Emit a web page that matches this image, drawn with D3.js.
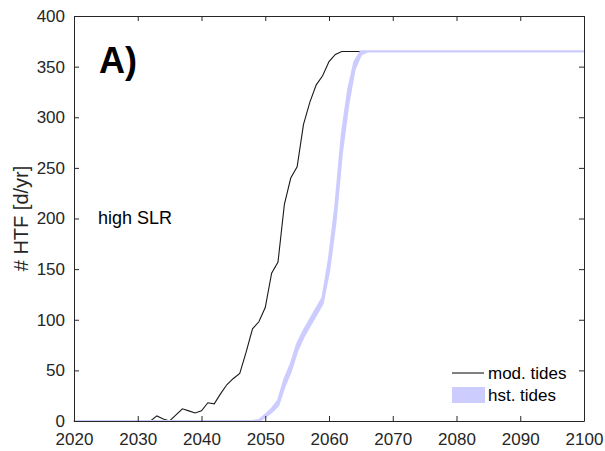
<!DOCTYPE html>
<html>
<head>
<meta charset="utf-8">
<script src="https://cdn.jsdelivr.net/npm/d3@7"></script>
<style>
  body { margin: 0; background: #fff; }
  svg text { font-family: "Liberation Sans", Arial, sans-serif; fill: #262626; }
</style>
</head>
<body>
<div id="container"></div>
<script>
/* DATA */
const years = d3.range(2020, 2101);

// mod. tides (black line), yearly values, 2020 onwards until it reaches 365
const modValues = [
  0, 0, 0, 0, 0, 0, 0, 0, 0, 0,      // 2020-2029
  0, 0, 0, 5, 2, 0, 6, 12, 10, 8,    // 2030-2039
  10, 18, 17, 27, 36, 42, 47, 68, 91, 98,   // 2040-2049
  112, 146, 157, 214, 240, 251, 293, 315, 332, 341, // 2050-2059
  355, 362, 365                       // 2060-2062
];

// hst. tides band (lower / upper), from 2048 onwards
const hstStart = 2048;
const hstLow  = [0, 0, 4, 9, 15, 34, 49, 69, 83, 94, 105, 116, 148, 196, 264, 312, 347, 362, 365];
const hstHigh = [0, 1, 6, 12, 20, 41, 56, 76, 89, 100, 111, 122, 160, 212, 282, 327, 355, 365, 365];

const xTicks = d3.range(2020, 2101, 10);
const yTicks = d3.range(0, 401, 50);
const maxDays = 365;

/* LAYOUT */
const width = 605, height = 451;
const margin = { top: 16, right: 21, bottom: 30, left: 74 };

const xScale = d3.scaleLinear().domain([2020, 2100]).range([margin.left, width - margin.right]);
const yScale = d3.scaleLinear().domain([0, 400]).range([height - margin.bottom, margin.top]);

// fill series out to 2100 with the plateau
const mod = years.map((yr, i) => ({ yr, v: i < modValues.length ? modValues[i] : maxDays }));
const hst = years.map(yr => {
  const i = yr - hstStart;
  if (i < 0) return { yr, lo: 0, hi: 0 };
  if (i >= hstLow.length) return { yr, lo: maxDays, hi: maxDays };
  return { yr, lo: hstLow[i], hi: hstHigh[i] };
});

const svg = d3.select('#container').append('svg')
  .attr('width', width).attr('height', height);

const axisColor = '#262626';
const blue = '#ccccff';

/* LINES */
const line = d3.line().x(d => xScale(d.yr)).y(d => yScale(d.v));
svg.append('path')
  .datum(mod)
  .attr('d', line)
  .attr('fill', 'none')
  .attr('stroke', '#1a1a1a')
  .attr('stroke-width', 1.1);

const area = d3.area().x(d => xScale(d.yr)).y0(d => yScale(d.lo)).y1(d => yScale(d.hi));
svg.append('path')
  .datum(hst)
  .attr('d', area)
  .attr('fill', blue)
  .attr('stroke', blue)
  .attr('stroke-width', 2.2)
  .attr('stroke-linejoin', 'round');

/* AXES */
const x0 = margin.left, x1 = width - margin.right;
const y0 = height - margin.bottom, y1 = margin.top;

svg.append('g')
  .attr('transform', `translate(0,${y0})`)
  .call(d3.axisBottom(xScale).tickValues(xTicks).tickFormat(d3.format('d')).tickSizeInner(-5).tickSizeOuter(0).tickPadding(12))
  .call(g => g.select('.domain').attr('stroke', axisColor))
  .call(g => g.selectAll('.tick line').attr('stroke', axisColor))
  .call(g => g.selectAll('.tick text').attr('font-size', 17).attr('fill', axisColor));

svg.append('g')
  .attr('transform', `translate(${x0},0)`)
  .call(d3.axisLeft(yScale).tickValues(yTicks).tickSizeInner(-5).tickSizeOuter(0).tickPadding(9))
  .call(g => g.select('.domain').attr('stroke', axisColor))
  .call(g => g.selectAll('.tick line').attr('stroke', axisColor))
  .call(g => g.selectAll('.tick text').attr('font-size', 17).attr('fill', axisColor));

// top and right box edges with inward ticks
svg.append('g')
  .attr('transform', `translate(0,${y1})`)
  .call(d3.axisTop(xScale).tickValues(xTicks).tickFormat('').tickSizeInner(-5).tickSizeOuter(0))
  .call(g => g.select('.domain').attr('stroke', axisColor))
  .call(g => g.selectAll('.tick line').attr('stroke', axisColor));

svg.append('g')
  .attr('transform', `translate(${x1},0)`)
  .call(d3.axisRight(yScale).tickValues(yTicks).tickFormat('').tickSizeInner(-5).tickSizeOuter(0))
  .call(g => g.select('.domain').attr('stroke', axisColor))
  .call(g => g.selectAll('.tick line').attr('stroke', axisColor));

/* LABELS */
svg.append('text')
  .attr('transform', `translate(21,${(y0 + y1) / 2}) rotate(-90)`)
  .attr('text-anchor', 'middle')
  .attr('dy', '0.35em')
  .attr('font-size', 20)
  .text('# HTF [d/yr]');

svg.append('text')
  .attr('x', 99).attr('y', 73)
  .attr('font-size', 36).attr('font-weight', 'bold')
  .style('fill', '#000')
  .text('A)');

svg.append('text')
  .attr('x', 98).attr('y', 224)
  .attr('font-size', 18)
  .style('fill', '#000')
  .text('high SLR');

/* LEGEND */
const legend = svg.append('g');
legend.append('line')
  .attr('x1', 452).attr('x2', 484).attr('y1', 373).attr('y2', 373)
  .attr('stroke', '#1a1a1a').attr('stroke-width', 1.1);
legend.append('text')
  .attr('x', 488).attr('y', 379)
  .attr('font-size', 17).style('fill', '#000')
  .text('mod. tides');
legend.append('rect')
  .attr('x', 452).attr('y', 387).attr('width', 33).attr('height', 16)
  .attr('fill', blue);
legend.append('text')
  .attr('x', 488).attr('y', 401)
  .attr('font-size', 17).style('fill', '#000')
  .text('hst. tides');
</script>
</body>
</html>
